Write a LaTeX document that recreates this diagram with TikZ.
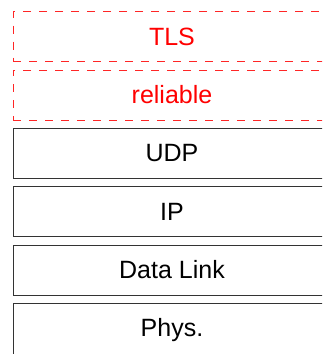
\documentclass[tikz,border=0pt]{standalone}
\usepackage{fontspec}
\setmainfont{Liberation Sans}
\begin{document}
\begin{tikzpicture}[x=1pt,y=-1pt,
  % each layer box is 360pt wide so its right side falls off the page;
  % the label is centred in the first 318pt of the box
  layer/.style={draw=black!80,line width=1pt,minimum width=360pt,minimum height=50pt,
    inner sep=0pt,outer sep=0pt,anchor=north west,text height=18pt,text depth=1pt,
    font=\fontsize{25}{30}\selectfont},
  dlayer/.style={layer,draw=red!85!white,dash pattern=on 8pt off 8pt,text=red}]
  \useasboundingbox (0,0) rectangle (322,354);
  \begin{scope}
  \clip (0,0) rectangle (322,354);
  \node[dlayer] (tls) at (13,11.5) {\makebox[318pt]{TLS}\hspace*{42pt}};
  \node[dlayer] (rel) at (13,70) {\makebox[318pt]{reliable}\hspace*{42pt}};
  \node[layer] (udp) at (13,128) {\makebox[318pt]{UDP}\hspace*{42pt}};
  \node[layer] (ip) at (13,186.5) {\makebox[318pt]{IP}\hspace*{42pt}};
  \node[layer] (dl) at (13,245) {\makebox[318pt]{Data Link}\hspace*{42pt}};
  \node[layer,minimum height=62pt,text depth=13pt] (phys) at (13,303) {\makebox[318pt]{Phys.}\hspace*{42pt}};
  \end{scope}
\end{tikzpicture}
\end{document}
